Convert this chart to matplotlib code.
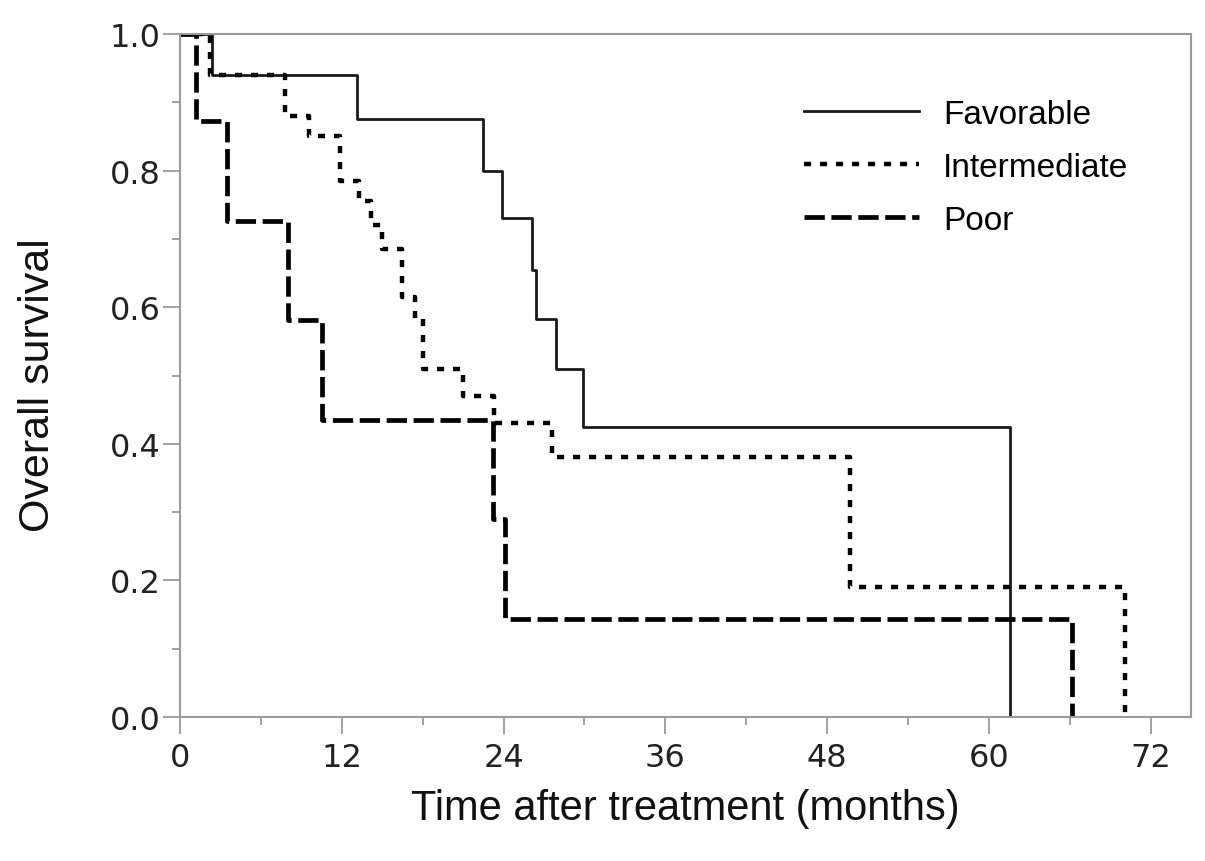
import matplotlib
matplotlib.use("Agg")
import matplotlib.pyplot as plt
from matplotlib.ticker import MultipleLocator, FormatStrFormatter

# Kaplan-Meier steps (months, survival)
fav_t = [0, 2.4, 13.1, 22.5, 23.9, 26.1, 26.4, 27.9, 29.9, 61.6]
fav_s = [1.0, 0.94, 0.875, 0.80, 0.73, 0.655, 0.583, 0.51, 0.425, 0.0]

int_t = [0, 2.2, 7.8, 9.6, 11.9, 13.3, 14.2, 15.0, 16.5, 17.4, 18.0, 21.0, 23.3, 27.6, 49.7, 70.1]
int_s = [1.0, 0.94, 0.88, 0.85, 0.785, 0.755, 0.72, 0.685, 0.615, 0.583, 0.51, 0.47, 0.43, 0.38, 0.19, 0.0]

poor_t = [0, 1.2, 3.5, 8.0, 10.5, 23.2, 24.1, 66.2]
poor_s = [1.0, 0.873, 0.726, 0.581, 0.435, 0.29, 0.143, 0.0]

labels = ["Favorable", "Intermediate", "Poor"]

fig = plt.figure(figsize=(12.05, 8.62), dpi=100)
ax = fig.add_axes([0.1494, 0.167, 0.8390, 0.7924])

ax.step(fav_t, fav_s, where="post", color="#1a1a1a", lw=2.0, label=labels[0])
ax.step(int_t, int_s, where="post", color="black", lw=3.2,
        linestyle=(0, (1.6, 2.0)), dash_capstyle="butt", label=labels[1])
ax.step(poor_t, poor_s, where="post", color="black", lw=3.4,
        linestyle=(0, (4.3, 1.4)), dash_capstyle="butt", label=labels[2])

ax.set_xlim(0, 75)
ax.set_ylim(0, 1.0)
ax.xaxis.set_major_locator(MultipleLocator(12))
ax.xaxis.set_minor_locator(MultipleLocator(6))
ax.yaxis.set_major_locator(MultipleLocator(0.2))
ax.yaxis.set_minor_locator(MultipleLocator(0.1))
ax.yaxis.set_major_formatter(FormatStrFormatter("%.1f"))

grey = "#9a9a9a"
for sp in ax.spines.values():
    sp.set_color(grey)
    sp.set_linewidth(1.5)
ax.tick_params(which="major", direction="out", length=12, width=1.3, color=grey,
               labelsize=23, labelcolor="#222222")
ax.tick_params(which="minor", direction="out", length=6, width=1.3, color=grey)
ax.tick_params(axis="x", which="major", pad=6)
ax.tick_params(axis="y", which="major", pad=2)
for lab in ax.get_xticklabels() + ax.get_yticklabels():
    lab.set_family("DejaVu Sans")

ax.set_xlabel("Time after treatment (months)", fontsize=30, family="Liberation Sans",
              color="#111111")
ax.set_ylabel("Overall survival", fontsize=31, family="Liberation Sans",
              color="#111111")
ax.xaxis.set_label_coords(0.5, -0.104)
ax.yaxis.set_label_coords(-0.121, 0.488)

ax.legend(loc="upper left", bbox_to_anchor=(0.601, 0.929), frameon=False,
          prop={"family": "Liberation Sans", "size": 24},
          handlelength=3.45, handletextpad=0.72, labelspacing=0.66, borderpad=0)

fig.savefig("out.png", dpi=100)
